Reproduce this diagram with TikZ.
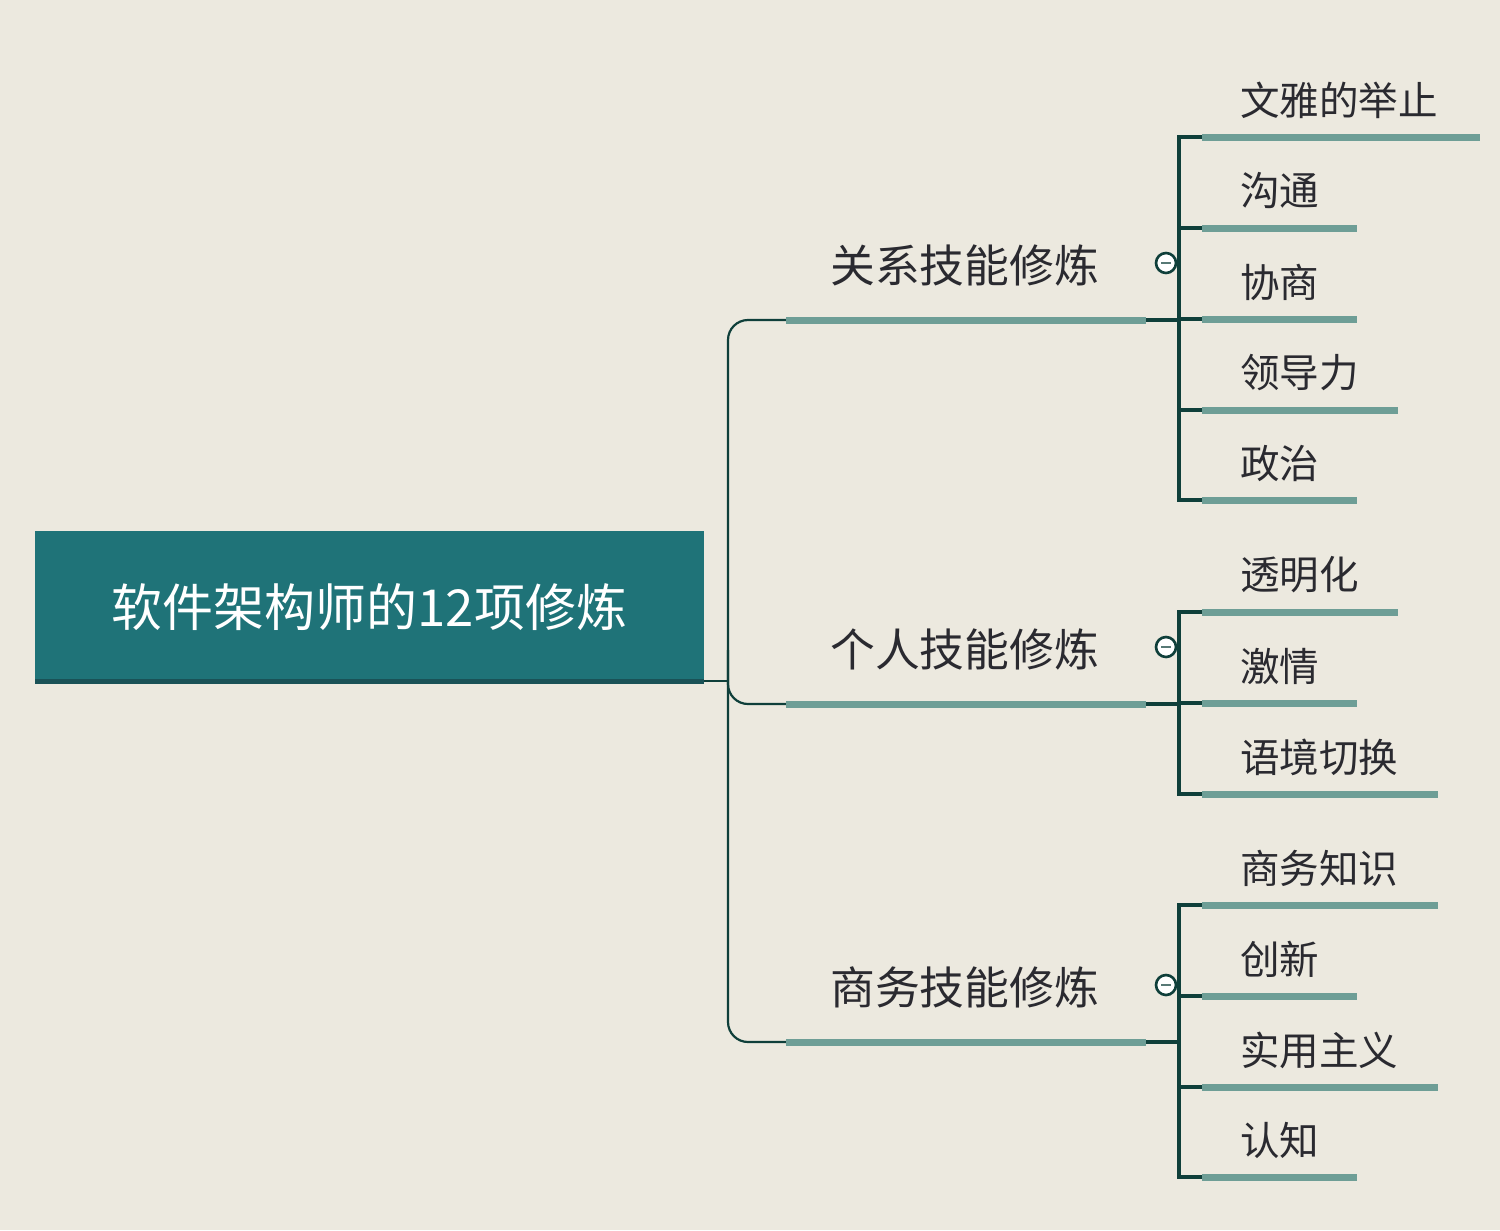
\documentclass[tikz,border=0pt]{standalone}
\usepackage{fontspec}
\setmainfont{Noto Sans CJK SC}
\usetikzlibrary{positioning, calc}
\definecolor{bgcolor}{HTML}{ECE9DF}
\definecolor{rootcolor}{HTML}{1F7378}
\definecolor{rootedge}{HTML}{1A5257}
\definecolor{linecolor}{HTML}{0F3F3A}
\definecolor{barcolor}{HTML}{6E9E96}
\definecolor{textcolor}{HTML}{2A2A30}

\begin{document}
\begin{tikzpicture}[x=0.02cm, y=-0.02cm,
    rootbox/.style={rectangle, fill=rootcolor, minimum width=669*0.02cm, minimum height=153*0.02cm, inner sep=0pt,
                    text=white, font=\fontsize{29}{32}\selectfont},
    branchtext/.style={anchor=west, text=textcolor, font=\fontsize{25.5}{28}\selectfont, inner sep=0pt},
    leaftext/.style={anchor=west, text=textcolor, font=\fontsize{22.5}{25}\selectfont, inner sep=0pt},
    bar/.style={barcolor, line width=7*0.02cm},
    link/.style={linecolor, line width=2.2*0.02cm},
    bracket/.style={linecolor, line width=4*0.02cm},
    toggle/.style={circle, draw=linecolor, fill=white, line width=1.5pt, minimum size=20*0.02cm, inner sep=0pt}
]
\useasboundingbox[fill=bgcolor] (0,0) rectangle (1500,1230);

% Root
\node[rootbox] (root) at (369.5,607.5) {软件架构师的12项修炼};
\fill[rootedge] (35,679) rectangle (704,684);

% Trunk
\coordinate (rootout) at (704,681);
\coordinate (trunk) at (728,681);
\draw[link] (rootout) -- (trunk);
\draw[link, rounded corners=20*0.02cm] (786,320) -- (728,320) -- (728,1042) -- (786,1042);
\draw[link, rounded corners=20*0.02cm] (728,650) -- (728,704) -- (786,704);

% Branches: y, label, name
\foreach \by/\txt/\nm in {320/关系技能修炼/rel, 704/个人技能修炼/per, 1042/商务技能修炼/biz}{
  \draw[bar] (786,\by) -- (1146,\by);
  \draw[linecolor, line width=4*0.02cm] (1146,\by) -- (1179,\by);
  \node[branchtext] (\nm) at (830,\by-55) {\txt};
}

% Brackets
\draw[bracket] (1202,137) -- (1179,137) -- (1179,500) -- (1202,500);
\draw[bracket] (1202,612) -- (1179,612) -- (1179,794) -- (1202,794);
\draw[bracket] (1202,905) -- (1179,905) -- (1179,1177) -- (1202,1177);

% Leaves: y, right end, label
\foreach \ly/\lx/\txt [count=\i] in {137/1480/文雅的举止, 228/1357/沟通, 319/1357/协商, 410/1398/领导力, 500/1357/政治,
                          612/1398/透明化, 703/1357/激情, 794/1438/语境切换,
                          905/1438/商务知识, 996/1357/创新, 1087/1438/实用主义, 1177/1357/认知}{
  \draw[linecolor, line width=4*0.02cm] (1179,\ly) -- (1202,\ly);
  \draw[bar] (1202,\ly) -- (\lx,\ly);
  \node[leaftext] (leaf\i) at (1240,\ly-37) {\txt};
}

% Collapse toggles
\foreach \ty/\nm in {263/t1, 647/t2, 985/t3}{
  \node[toggle] (\nm) at (1166,\ty) {};
  \draw[linecolor!70, line width=1pt] ($(\nm)+(-5,0)$) -- ($(\nm)+(5,0)$);
}

\end{tikzpicture}
\end{document}
